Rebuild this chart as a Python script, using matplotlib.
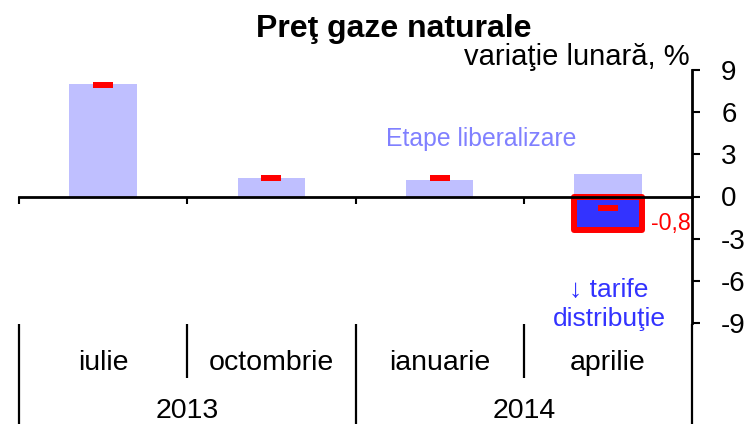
import matplotlib
matplotlib.use("Agg")
import matplotlib.pyplot as plt
import matplotlib.transforms as mtransforms

plt.rcParams['font.family'] = ['Liberation Sans', 'DejaVu Sans']

months = ["iulie", "octombrie", "ianuarie", "aprilie"]
years = ["2013", "2014"]
etape = [8.0, 1.3, 1.2, 1.6]          # Etape liberalizare
tarife = [0.0, 0.0, 0.0, -2.4]        # tarife distributie
total = [7.9, 1.3, 1.3, -0.8]         # red markers
yticks = [-9, -6, -3, 0, 3, 6, 9]
total_label = "-0,8"

W, H = 750, 424
fig = plt.figure(figsize=(7.5, 4.24), dpi=100)
ax = fig.add_axes([19 / W, 1 - 323 / H, (692 - 19) / W, (323 - 70) / H])

def fx(px):
    return px / W

def fy(py):
    return 1 - py / H

x = list(range(len(months)))
ax.bar(x, etape, width=0.4, color='#BFBFFF', zorder=1)
ax.bar(x[3], tarife[3], width=0.4, color='#3333FF', edgecolor='#FF0000',
       linewidth=4.3, joinstyle='round', zorder=1.5)
mh = 0.43
ax.bar(x, [mh] * len(total), bottom=[v - mh / 2 for v in total], width=0.12,
       color='#FF0000', zorder=3)

ax.set_xlim(-0.5, 3.5)
ax.set_ylim(-9, 9)

for s in ['top', 'left']:
    ax.spines[s].set_visible(False)
ax.spines['bottom'].set_position(('data', 0))
ax.spines['bottom'].set_linewidth(2)
ax.spines['bottom'].set_zorder(2.5)
ax.spines['right'].set_linewidth(2)

ax.set_xticks([-0.5, 0.5, 1.5, 2.5])
ax.set_xticklabels([])
ax.tick_params(axis='x', direction='out', length=5, width=1.5)

ax.yaxis.tick_right()
ax.set_yticks(yticks)
ax.set_yticklabels([str(v) for v in yticks])
ax.tick_params(axis='y', direction='out', length=6, width=1.5, labelsize=20, pad=15)

# category label area
tr = mtransforms.blended_transform_factory(ax.transData, fig.transFigure)
for xb, full in [(-0.5, True), (0.5, False), (1.5, True), (2.5, False), (3.5, True)]:
    y1 = fy(424) if full else fy(378)
    ax.plot([xb, xb], [fy(324), y1], color='black', lw=1.6, transform=tr,
            clip_on=False, solid_capstyle='butt')
for i, m in enumerate(months):
    ax.text(i, fy(370), m, transform=tr, ha='center', va='baseline', fontsize=20.5)
for j, yv in enumerate(years):
    ax.text(0.5 + 2 * j, fy(418), yv, transform=tr, ha='center', va='baseline', fontsize=20.5)

# titles and annotations
fig.text(fx(394), fy(37), "Preţ gaze naturale", ha='center', va='baseline',
         fontsize=23, fontweight='bold')
fig.text(fx(690), fy(65), "variaţie lunară, %", ha='right', va='baseline', fontsize=21)
fig.text(fx(386), fy(146), "Etape liberalizare", ha='left', va='baseline',
         fontsize=17.8, color='#8080FF')
fig.text(fx(609), fy(297), "↓ tarife", ha='center', va='baseline',
         fontsize=19, color='#3333FF')
fig.text(fx(609), fy(326), "distribuţie", ha='center', va='baseline',
         fontsize=19, color='#3333FF')
fig.text(fx(651), fy(230), total_label, ha='left', va='baseline',
         fontsize=16.7, color='#FF0000')

fig.savefig("out.png", dpi=100)
